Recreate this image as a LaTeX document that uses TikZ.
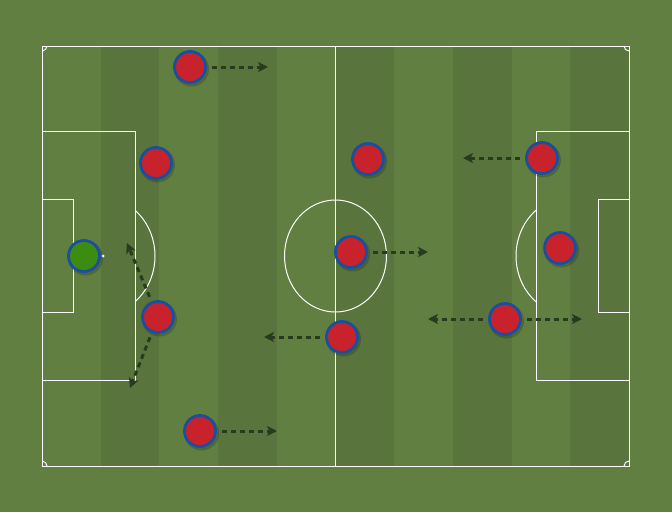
\documentclass[tikz,border=0pt]{standalone}
\usetikzlibrary{arrows.meta}
\definecolor{grass}{HTML}{627F42}
\definecolor{grassdark}{HTML}{5A743D}
\definecolor{shirtred}{HTML}{C8232C}
\definecolor{shirtblue}{HTML}{1A4FA0}
\definecolor{keepergreen}{HTML}{3D8C12}
\definecolor{runcol}{HTML}{2A3A1F}
\begin{document}
\begin{tikzpicture}[x=1pt,y=-1pt,
  line/.style={draw=white,line width=1pt},
  player/.style={circle,minimum size=31pt,inner sep=0pt,fill=shirtred,draw=shirtblue,line width=2.8pt},
  keeper/.style={player,fill=keepergreen},
  run/.style={draw=runcol,line width=3pt,dash pattern=on 5pt off 4pt,shorten <=5pt,-{Stealth[length=10pt,width=10pt,inset=2.5pt]}}]
\useasboundingbox (0,0) rectangle (672,512);
\fill[grass] (0,0) rectangle (672,512);
% stripes
\foreach \i in {1,3,5,7,9}{
  \fill[grassdark] ({42+\i*58.7},46) rectangle ({42+(\i+1)*58.7},466);
}
% pitch lines
\draw[line] (42,46) rectangle (629,466);
\draw[line] (335.5,46) -- (335.5,466);
\draw[line] (335.5,256) ellipse [x radius=51, y radius=56];
\draw[line] (42,131) rectangle (135,380);
\draw[line] (42,199) rectangle (73,312);
\draw[line] (629,131) rectangle (536,380);
\draw[line] (629,199) rectangle (598,312);
% penalty arcs
\begin{scope}
\clip (135,150) rectangle (200,360);
\draw[line] (103,256) ellipse [x radius=52, y radius=58];
\end{scope}
\begin{scope}
\clip (470,150) rectangle (536,360);
\draw[line] (568,256) ellipse [x radius=52, y radius=58];
\end{scope}
\fill[white] (103,256) circle (1.6);
% corner arcs
\begin{scope}
\clip (42,46) rectangle (629,466);
\foreach \cx/\cy in {42/46,629/46,42/466,629/466}{
  \draw[line] (\cx,\cy) circle (5);
}
\end{scope}
% shadows
\foreach \x/\y in {190/67,156/163,84/256,158/317,200/431,368/159,351/252,342/337,542/158,560/248,505/319}{
  \fill[black,opacity=0.18] (\x+1.5,\y+2) circle (17.5);
}
% players
\node[player] (p1) at (190,67) {};
\node[player] (p2) at (156,163) {};
\node[keeper] (gk) at (84,256) {};
\node[player] (p4) at (158,317) {};
\node[player] (p5) at (200,431) {};
\node[player] (p6) at (368,159) {};
\node[player] (p7) at (351,252) {};
\node[player] (p8) at (342,337) {};
\node[player] (p9) at (542,158) {};
\node[player] (p10) at (560,248) {};
\node[player] (p11) at (505,319) {};
% run targets
\coordinate (a1) at (268,67);
\coordinate (a4u) at (127,243);
\coordinate (a4d) at (130,388);
\coordinate (a5) at (277,431);
\coordinate (a7) at (428,252);
\coordinate (a8) at (264,337);
\coordinate (a9) at (463,158);
\coordinate (a11l) at (428,319);
\coordinate (a11r) at (582,319);
\draw[run] (p1) -- (a1);
\draw[run] (p4) -- (a4u);
\draw[run] (p4) -- (a4d);
\draw[run] (p5) -- (a5);
\draw[run] (p7) -- (a7);
\draw[run] (p8) -- (a8);
\draw[run] (p9) -- (a9);
\draw[run] (p11) -- (a11l);
\draw[run] (p11) -- (a11r);
\end{tikzpicture}
\end{document}
